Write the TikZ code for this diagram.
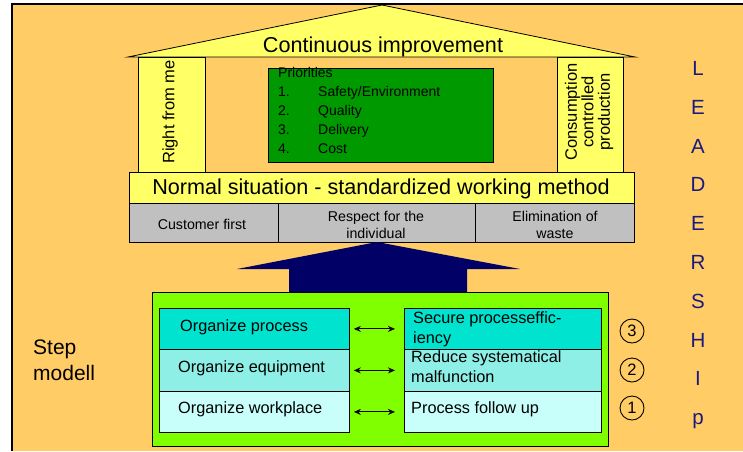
\documentclass[tikz,border=0pt]{standalone}
\usepackage{fontspec}
\setmainfont{Liberation Sans}
\usetikzlibrary{arrows.meta}
\definecolor{bgorange}{HTML}{FFCC66}
\definecolor{roofyellow}{HTML}{FFFF66}
\definecolor{prioGreen}{HTML}{009900}
\definecolor{limeGreen}{HTML}{80FF00}
\definecolor{greyRow}{HTML}{C0C0C0}
\definecolor{navyArrow}{HTML}{000066}
\definecolor{tealA}{HTML}{00E3CF}
\definecolor{tealB}{HTML}{8EEFE6}
\definecolor{tealC}{HTML}{C8FFFA}
\definecolor{leadBlue}{HTML}{1A1A80}
\begin{document}
\begin{tikzpicture}[x=1pt,y=-1pt,
  box/.style={draw=black, line width=0.8pt, inner sep=0pt, anchor=north west},
  txt/.style={inner sep=0pt},
  big/.style={txt, font=\fontsize{21.6}{24}\selectfont, text height=15.5pt, text depth=0pt},
  greytxt/.style={txt, font=\fontsize{14.2}{17}\selectfont, text height=10.2pt, text depth=0pt},
  prio/.style={txt, anchor=west, font=\fontsize{14}{15}\selectfont, text height=10pt, text depth=0pt},
  steptxt/.style={txt, anchor=west, font=\fontsize{16.3}{20}\selectfont, text height=11.7pt, text depth=0pt},
  smtxt/.style={txt, anchor=west, font=\fontsize{21}{26}\selectfont, text height=15pt, text depth=0pt},
  lead/.style={txt, anchor=base, text=leadBlue, font=\fontsize{20.5}{20}\selectfont},
  numcirc/.style={draw=black, circle, line width=0.9pt, minimum size=24pt, inner sep=0pt, font=\fontsize{16.5}{16.5}\selectfont},
  dbl/.style={{Stealth[length=7pt,width=6pt]}-{Stealth[length=7pt,width=6pt]}, line width=1pt}
]
\useasboundingbox (0,0) rectangle (743,451);
% background
\fill[bgorange] (12,4) rectangle (743,451);
\draw[line width=1.2pt] (12,451) -- (12,4) -- (743,4);

% roof
\draw[line width=0.8pt, fill=roofyellow] (128,57) -- (382,5) -- (635,57) -- cycle;
\node[big] (ci) at (383,45) {Continuous improvement};

% pillars
\node[box, fill=roofyellow, minimum width=67pt, minimum height=115pt] (lp) at (138,57) {};
\node[box, fill=roofyellow, minimum width=66pt, minimum height=115pt] (rp) at (557,57) {};
\node[txt, rotate=90, font=\fontsize{16.5}{16.5}\selectfont] (lpt) at (170,112) {Right from me};
\node[txt, rotate=90, align=center, font=\fontsize{16.5}{16.5}\selectfont] (rpt) at (589,112) {Consumption\\controlled\\production};

% priorities
\node[box, fill=prioGreen, minimum width=225pt, minimum height=94pt] (pb) at (268,68) {};
\node[prio] (p0) at (278,72) {Priorities};
\node[prio] (n1) at (278,91) {1.};
\node[prio] (w1) at (318,91) {Safety/Environment};
\node[prio] (n2) at (278,110) {2.};
\node[prio] (w2) at (318,110) {Quality};
\node[prio] (n3) at (278,129) {3.};
\node[prio] (w3) at (318,129) {Delivery};
\node[prio] (n4) at (278,148) {4.};
\node[prio] (w4) at (318,148) {Cost};

% normal situation bar
\node[box, fill=roofyellow, minimum width=505pt, minimum height=31pt] (ns) at (129,172) {};
\node[big] (nst) at (381,187) {Normal situation - standardized working method};

% grey row
\node[box, fill=greyRow, minimum width=149pt, minimum height=39pt] (g1) at (129,203) {};
\node[box, fill=greyRow, minimum width=197pt, minimum height=39pt] (g2) at (278,203) {};
\node[box, fill=greyRow, minimum width=159pt, minimum height=39pt] (g3) at (475,203) {};
\node[greytxt] (g1t) at (202,224) {Customer first};
\node[greytxt] (g2ta) at (376,216) {Respect for the};
\node[greytxt] (g2tb) at (376,233) {individual};
\node[greytxt] (g3ta) at (555,216) {Elimination of};
\node[greytxt] (g3tb) at (555,233) {waste};

% big arrow
\fill[navyArrow] (289,293) -- (289,269) -- (237,269) -- (377,242) -- (520,269) -- (467,269) -- (467,293) -- cycle;

% step model box
\node[box, fill=limeGreen, minimum width=456pt, minimum height=154pt] (sm) at (152,292) {};
\node[box, fill=tealA, minimum width=190pt, minimum height=41pt] (L3) at (159,308) {};
\node[box, fill=tealB, minimum width=190pt, minimum height=42pt] (L2) at (159,349) {};
\node[box, fill=tealC, minimum width=190pt, minimum height=41pt] (L1) at (159,391) {};
\node[box, fill=tealA, minimum width=197pt, minimum height=41pt] (R3) at (404,308) {};
\node[box, fill=tealB, minimum width=197pt, minimum height=42pt] (R2) at (404,349) {};
\node[box, fill=tealC, minimum width=197pt, minimum height=41pt] (R1) at (404,391) {};

\node[steptxt] (L3t) at (180,326) {Organize process};
\node[steptxt] (L2t) at (178,367) {Organize equipment};
\node[steptxt] (L1t) at (178,408) {Organize workplace};
\node[steptxt] (R3ta) at (413,318) {Secure processeffic-};
\node[steptxt] (R3tb) at (413,338) {iency};
\node[steptxt] (R2ta) at (411,357) {Reduce systematical};
\node[steptxt] (R2tb) at (411,377) {malfunction};
\node[steptxt] (R1t) at (411,408) {Process follow up};

\draw[dbl] ([xshift=4pt]L3.east) -- ([xshift=-9pt]R3.west);
\draw[dbl] ([xshift=4pt]L2.east) -- ([xshift=-9pt]R2.west);
\draw[dbl] ([xshift=4pt]L1.east) -- ([xshift=-9pt]R1.west);

% circled numbers
\node[numcirc] (c3) at (632,331) {3};
\node[numcirc] (c2) at (632,370) {2};
\node[numcirc] (c1) at (632,408) {1};

% step modell label
\node[smtxt] (sma) at (33,347) {Step};
\node[smtxt] (smb) at (33,373) {modell};

% LEADERSHIp
\node[lead] (l1) at (698,75.5) {L};
\node[lead] (l2) at (698,114.3) {E};
\node[lead] (l3) at (698,153.1) {A};
\node[lead] (l4) at (698,191.9) {D};
\node[lead] (l5) at (698,230.7) {E};
\node[lead] (l6) at (698,269.5) {R};
\node[lead] (l7) at (698,308.3) {S};
\node[lead] (l8) at (698,347.1) {H};
\node[lead] (l9) at (698,385.9) {I};
\node[lead] (l10) at (698,424.7) {p};
\end{tikzpicture}
\end{document}
